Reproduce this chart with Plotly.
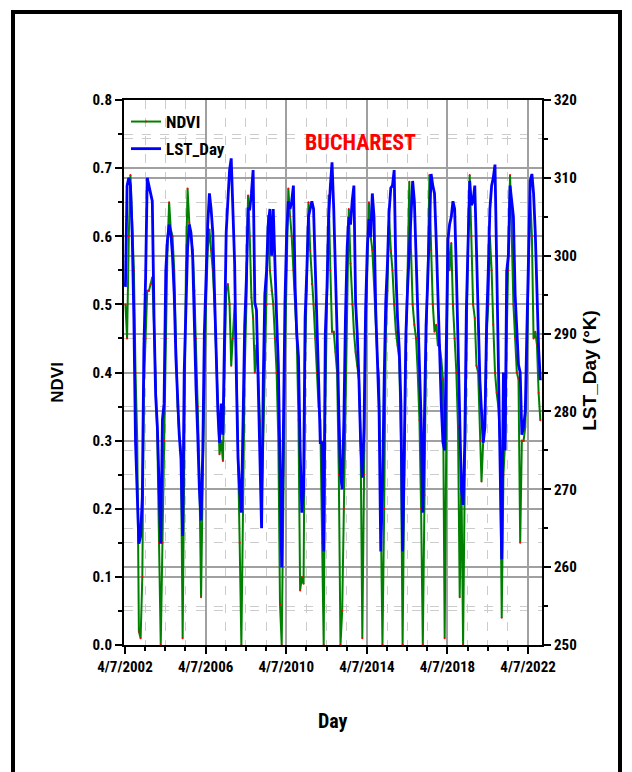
import pandas as pd
import plotly.graph_objects as go

# Monthly samples (mid-month), April 2002 .. November 2022
ndvi = [
    0.50, 0.45, 0.60, 0.69, 0.62, 0.55, 0.40, 0.30, 0.02, 0.01, 0.10, 0.38,  # 2002-03
    0.45, 0.52, 0.52, 0.53, 0.54, 0.47, 0.40, 0.30, 0.15, 0.00, 0.15, 0.30,  # 2003-04
    0.45, 0.58, 0.65, 0.61, 0.60, 0.55, 0.45, 0.35, 0.31, 0.28, 0.01, 0.30,  # 2004-05
    0.55, 0.67, 0.62, 0.60, 0.58, 0.52, 0.45, 0.35, 0.25, 0.07, 0.25, 0.40,  # 2005-06
    0.50, 0.58, 0.61, 0.58, 0.55, 0.50, 0.42, 0.33, 0.28, 0.30, 0.27, 0.40,  # 2006-07
    0.52, 0.53, 0.50, 0.41, 0.45, 0.50, 0.42, 0.30, 0.15, 0.00, 0.20, 0.40,  # 2007-08
    0.50, 0.66, 0.60, 0.51, 0.48, 0.40, 0.44, 0.40, 0.33, 0.20, 0.30, 0.42,  # 2008-09
    0.50, 0.63, 0.55, 0.52, 0.50, 0.45, 0.40, 0.30, 0.06, 0.00, 0.25, 0.42,  # 2009-10
    0.55, 0.67, 0.63, 0.60, 0.55, 0.50, 0.45, 0.33, 0.08, 0.10, 0.09, 0.42,  # 2010-11
    0.52, 0.65, 0.58, 0.53, 0.50, 0.45, 0.40, 0.35, 0.33, 0.15, 0.00, 0.35,  # 2011-12
    0.55, 0.66, 0.55, 0.46, 0.46, 0.43, 0.40, 0.25, 0.00, 0.05, 0.20, 0.40,  # 2012-13
    0.55, 0.64, 0.56, 0.50, 0.46, 0.43, 0.41, 0.39, 0.30, 0.01, 0.25, 0.45,  # 2013-14
    0.55, 0.65, 0.60, 0.58, 0.53, 0.46, 0.42, 0.39, 0.18, 0.00, 0.20, 0.45,  # 2014-15
    0.52, 0.63, 0.58, 0.55, 0.50, 0.46, 0.44, 0.42, 0.30, 0.00, 0.25, 0.45,  # 2015-16
    0.55, 0.68, 0.58, 0.50, 0.47, 0.45, 0.40, 0.33, 0.20, 0.00, 0.22, 0.45,  # 2016-17
    0.55, 0.69, 0.58, 0.50, 0.46, 0.47, 0.44, 0.44, 0.42, 0.39, 0.01, 0.35,  # 2017-18
    0.60, 0.55, 0.59, 0.50, 0.45, 0.40, 0.32, 0.07, 0.25, 0.00, 0.25, 0.45,  # 2018-19
    0.60, 0.69, 0.60, 0.50, 0.48, 0.41, 0.40, 0.30, 0.24, 0.30, 0.35, 0.45,  # 2019-20
    0.50, 0.60, 0.55, 0.47, 0.40, 0.37, 0.35, 0.30, 0.04, 0.25, 0.30, 0.45,  # 2020-21
    0.55, 0.69, 0.60, 0.50, 0.45, 0.40, 0.39, 0.15, 0.30, 0.30, 0.32, 0.40,  # 2021-22
    0.55, 0.66, 0.60, 0.45, 0.46, 0.44, 0.37, 0.33,                          # 2022
]

lst_day = [
    296, 309, 310, 309, 303, 292, 276, 270, 263, 264, 269, 288,
    297, 310, 309, 308, 307, 292, 282, 278, 270, 263, 279, 281,
    298, 302, 304, 303, 300, 295, 287, 281, 277, 274, 264, 285,
    292, 301, 304, 303, 300, 290, 283, 277, 270, 266, 275, 290,
    298, 304, 308, 306, 303, 295, 285, 280, 276, 281, 277, 290,
    303, 307, 311, 312.5, 305, 299, 285, 274, 270, 267, 279, 291,
    297, 306, 306, 308, 311, 294, 293, 282, 276, 265, 284, 295,
    298, 304, 306, 300, 306, 297, 292, 286, 273, 260, 278, 294,
    303, 307, 306, 307, 309, 296, 290, 287, 275, 267, 270, 292,
    298, 305, 306, 307, 306, 299, 293, 284, 276, 276, 262, 290,
    296, 305, 309, 312, 306, 299, 290, 280, 272, 270, 279, 292,
    301, 305, 304, 307, 309, 294, 290, 284, 276, 271.5, 278, 293,
    301, 304.7, 302.4, 308, 305, 293, 286, 280, 262, 270, 284, 294,
    299, 305.6, 308.7, 309, 311, 298, 292, 288, 281, 262, 275, 290,
    296, 301, 305, 309.6, 307, 300, 292, 285, 279, 267, 278, 291,
    297, 303, 310.5, 309, 308, 302, 296, 288, 281, 276, 275, 290,
    302, 304, 305, 307, 306, 298, 288, 279, 270, 268, 276, 293,
    301, 309.6, 306.5, 307, 309, 300, 293, 284, 280, 276, 278, 291,
    298, 306, 309, 310, 311.7, 298, 290, 275, 261, 285, 275, 298,
    300, 309, 307, 305, 295, 290, 286, 285, 277, 278, 280, 290,
    301, 309.6, 310.5, 308, 303, 294, 288, 284,
]

dates = pd.date_range(start="2002-04-15", periods=len(ndvi), freq=pd.DateOffset(months=1))

x_range = ["2002-03-20", "2022-12-15"]
ndvi_range = [0, 0.8]
lst_range = [250, 320]

NARROW = ("Roboto Condensed, Noto Sans Condensed, Open Sans Condensed, DejaVu Sans Condensed, "
          "Liberation Sans Narrow, Arial Narrow, Liberation Sans, Arial")
WIDE = "Liberation Sans, Arial"
TICKFONT = dict(family=NARROW, size=15, color="black", weight="bold")

# page geometry (page has an 8px body margin)
PL, PR, PT, PB = 124, 542, 100, 645.5   # plot area on the page
PW, PH = PR - PL, PB - PT


def px(x):
    return (x - PL) / PW


def py(y):
    return (PB - y) / PH


fig = go.Figure()
fig.add_trace(go.Scatter(
    x=dates, y=ndvi, name="NDVI", mode="lines+markers",
    line=dict(color="#008000", width=2),
    marker=dict(color="red", size=2),
    legendgroup="a",
))
fig.add_trace(go.Scatter(
    x=dates, y=lst_day, name="LST_Day", mode="lines",
    line=dict(color="#0000ff", width=2.8), yaxis="y2",
    legendgroup="b",
))

major_grid = "#a0a0a0"
minor_grid = "#cccccc"

fig.update_layout(
    width=624, height=764,
    margin=dict(l=PL - 8, r=624 - (PR - 8), t=PT - 8, b=764 - (PB - 8)),
    paper_bgcolor="white", plot_bgcolor="white",
    showlegend=True,
    legend=dict(x=px(126), y=py(104), xanchor="left", yanchor="top",
                bgcolor="rgba(0,0,0,0)",
                font=dict(family=NARROW, size=17, color="black", weight="bold"),
                tracegroupgap=2, itemwidth=30),
    xaxis=dict(
        type="date", range=x_range, tick0="2002-04-07", dtick="M48",
        tickformat="%-m/%-d/%Y", tickfont=TICKFONT,
        showline=True, linecolor="black", linewidth=2, mirror=True,
        ticks="outside", ticklen=7, tickwidth=2, tickcolor="black",
        showgrid=True, gridcolor=major_grid, gridwidth=1.5,
        minor=dict(tick0="2002-04-07", dtick="M12", ticks="outside", ticklen=4, tickwidth=1.5,
                   tickcolor="black", showgrid=True, gridcolor=minor_grid, griddash="dash", gridwidth=1),
        zeroline=False,
    ),
    xaxis2=dict(
        type="date", range=x_range, tick0="2002-04-07", dtick="M48", overlaying="x", side="top",
        showticklabels=False, ticks="inside", ticklen=7, tickwidth=2, tickcolor="black",
        showgrid=False, showline=False,
        minor=dict(tick0="2002-04-07", dtick="M12", ticks="inside", ticklen=4, tickwidth=1.5,
                   tickcolor="black", showgrid=False),
        zeroline=False,
    ),
    yaxis=dict(
        range=ndvi_range, dtick=0.1, tickformat=".1f", tickfont=TICKFONT,
        showline=True, linecolor="black", linewidth=2, mirror=False,
        ticks="outside", ticklen=7, tickwidth=2, tickcolor="black",
        showgrid=True, gridcolor=major_grid, gridwidth=1.5,
        minor=dict(dtick=0.05, ticks="outside", ticklen=4, tickwidth=1.5, tickcolor="black",
                   showgrid=True, gridcolor=minor_grid, griddash="dash", gridwidth=1),
        zeroline=False,
    ),
    yaxis2=dict(
        range=lst_range, dtick=10, overlaying="y", side="right", tickfont=TICKFONT,
        showline=True, linecolor="black", linewidth=2,
        ticks="outside", ticklen=7, tickwidth=2, tickcolor="black",
        showgrid=True, gridcolor=major_grid, gridwidth=1.5,
        minor=dict(dtick=5, ticks="outside", ticklen=4, tickwidth=1.5, tickcolor="black",
                   showgrid=True, gridcolor=minor_grid, griddash="dash", gridwidth=1),
        zeroline=False,
    ),
)

common = dict(xref="paper", yref="paper", showarrow=False, xanchor="center", yanchor="middle")
fig.add_annotation(text="NDVI", x=px(58), y=py(383), textangle=-90,
                   font=dict(family=WIDE, size=17, color="black", weight="bold"), **common)
fig.add_annotation(text="LST_Day (°K)", x=px(590), y=py(371), textangle=-90,
                   font=dict(family=WIDE, size=19, color="black", weight="bold"), **common)
fig.add_annotation(text="Day", x=px(333), y=py(722),
                   font=dict(family=NARROW, size=20, color="black", weight="bold"), **common)
fig.add_annotation(text="BUCHAREST", x=px(360), y=py(143),
                   font=dict(family=NARROW, size=22, color="red", weight="bold"), **common)

# outer frame
fig.add_shape(type="rect", xref="paper", yref="paper",
              x0=px(13), x1=px(620), y0=py(800), y1=py(12),
              line=dict(color="black", width=4), fillcolor="rgba(0,0,0,0)", layer="above")

fig.write_html("out.html")
